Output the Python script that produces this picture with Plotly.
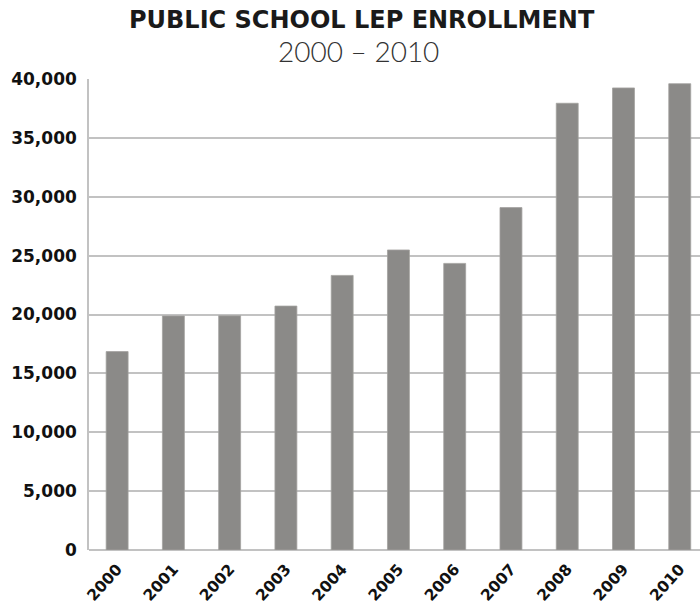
import plotly.graph_objects as go

years = ["2000", "2001", "2002", "2003", "2004", "2005", "2006", "2007", "2008", "2009", "2010"]
enrollment = [16850, 19880, 19890, 20715, 23320, 25480, 24340, 29080, 37940, 39240, 39600]
y_ticks = [0, 5000, 10000, 15000, 20000, 25000, 30000, 35000, 40000]
y_tick_labels = ["0", "5,000", "10,000", "15,000", "20,000", "25,000", "30,000", "35,000", "40,000"]

title = "PUBLIC SCHOOL LEP ENROLLMENT"
subtitle = "2000 – 2010"

fig = go.Figure()
fig.add_trace(go.Bar(
    x=list(range(len(years))),
    y=enrollment,
    marker=dict(color="#8b8a88", line=dict(color="#a3a2a0", width=0.8)),
    hoverinfo="x+y",
))

L, T, B = 89, 79, 61
W, H = 700, 611
plot_w = W - L
plot_h = H - T - B

def px_x(x):
    return (x - L) / plot_w

def px_y(y):
    return (H - B - y) / plot_h

fig.update_layout(
    width=W, height=H,
    margin=dict(l=L, r=0, t=T, b=B, pad=0),
    paper_bgcolor="white", plot_bgcolor="white",
    bargap=0.61,
    showlegend=False,
    xaxis=dict(
        tickmode="array",
        tickvals=list(range(len(years))),
        ticktext=years,
        range=[-0.5, 10.36],
        tickangle=-48,
        tickfont=dict(family="DejaVu Sans", size=15.5, color="#111111", weight="bold"),
        showgrid=False, zeroline=False,
        showline=False, ticks="",
        ticklabelstandoff=6,
    ),
    yaxis=dict(
        range=[0, 40000],
        tickmode="array",
        tickvals=y_ticks,
        ticktext=y_tick_labels,
        tickfont=dict(family="DejaVu Sans", size=17, color="#111111", weight="bold"),
        showgrid=True, gridcolor="#c2c2c2", gridwidth=1.6,
        zeroline=True, zerolinecolor="#c2c2c2", zerolinewidth=1.6,
        showline=True, linecolor="#c2c2c2", linewidth=1.6,
        ticks="", ticklabelstandoff=7,
    ),
    annotations=[
        dict(text=title, xref="paper", yref="paper", x=px_x(362), y=px_y(20),
             xanchor="center", yanchor="middle", showarrow=False,
             font=dict(family="DejaVu Sans", size=24, color="#1a1a1a", weight="bold")),
        dict(text=subtitle, xref="paper", yref="paper", x=px_x(358), y=px_y(51),
             xanchor="center", yanchor="middle", showarrow=False,
             font=dict(family="Lato", size=28, color="#333333", weight=300)),
    ],
)

fig.write_html("out.html")
